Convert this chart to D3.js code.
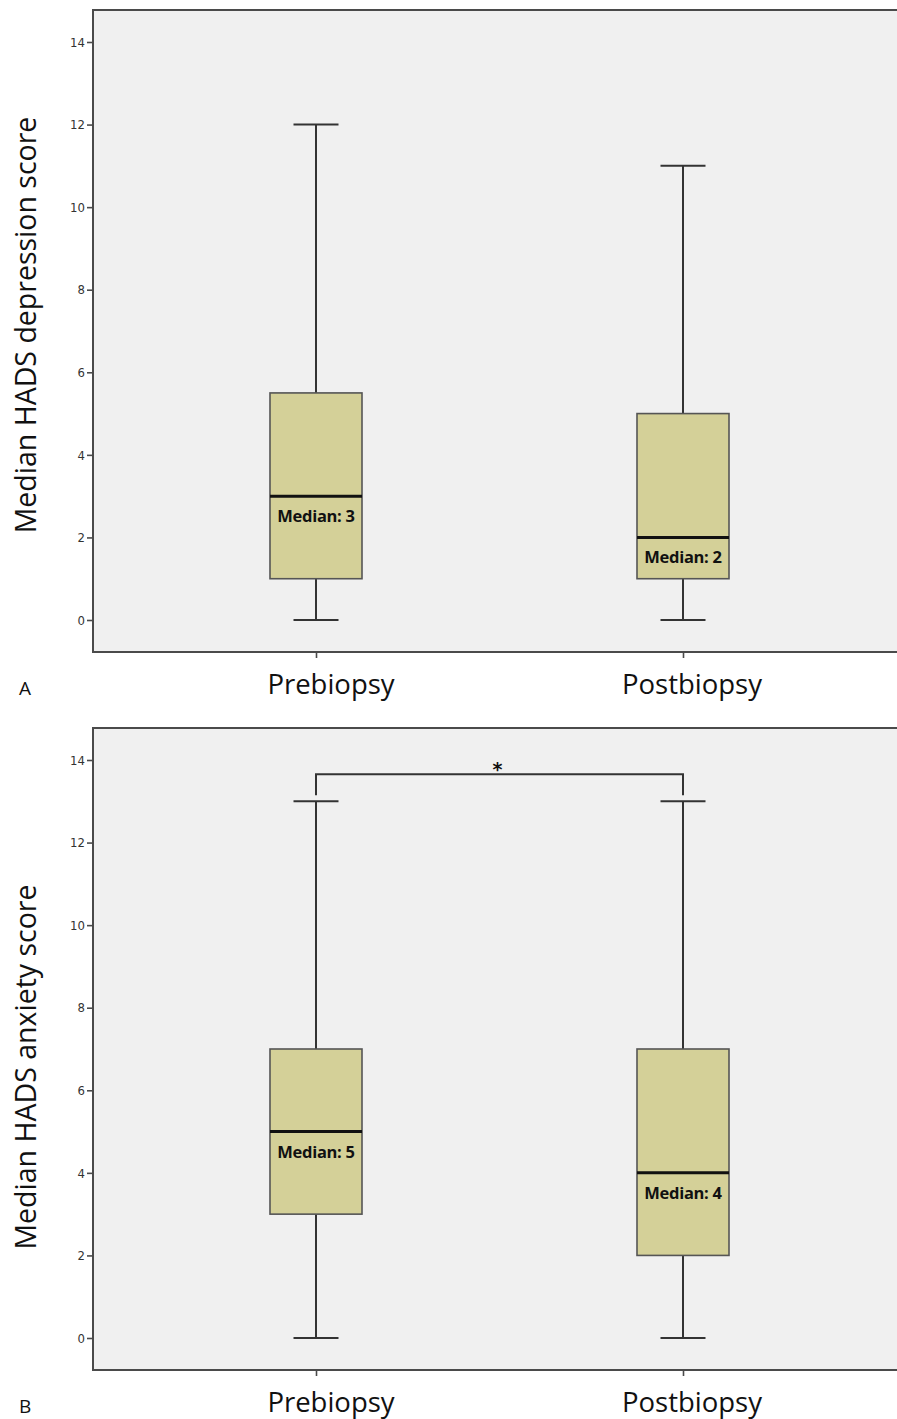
<!DOCTYPE html>
<html>
<head>
<meta charset="utf-8">
<script src="https://cdn.jsdelivr.net/npm/d3@7/dist/d3.min.js"></script>
<style>
  html, body { margin: 0; padding: 0; background: #ffffff; }
  svg { display: block; }
</style>
</head>
<body>
<svg id="chart" width="897" height="1419"></svg>
<script>
// ---- data ----
const categories = ["Prebiopsy", "Postbiopsy"];
const yTicks = [0, 2, 4, 6, 8, 10, 12, 14];

// Panel A: HADS depression  [min, q1, median, q3, max]
const depressionMin    = [0, 0];
const depressionQ1     = [1, 1];
const depressionMedian = [3, 2];
const depressionQ3     = [5.5, 5];
const depressionMax    = [12, 11];

// Panel B: HADS anxiety
const anxietyMin    = [0, 0];
const anxietyQ1     = [3, 2];
const anxietyMedian = [5, 4];
const anxietyQ3     = [7, 7];
const anxietyMax    = [13, 13];

const panelLetters = ["A", "B"];
const yLabels = ["Median HADS depression score", "Median HADS anxiety score"];

const svg = d3.select("#chart");

const panels = [
  { letter: panelLetters[0], ylabel: yLabels[0], offset: 0, labelShift: -6,
    min: depressionMin, q1: depressionQ1, med: depressionMedian, q3: depressionQ3, max: depressionMax, sig: false },
  { letter: panelLetters[1], ylabel: yLabels[1], offset: 718, labelShift: 18,
    min: anxietyMin, q1: anxietyQ1, med: anxietyMedian, q3: anxietyQ3, max: anxietyMax, sig: true }
];

const frameLeft = 93, frameRight = 897;
const boxW = 92, capW = 45;
const frameColor = "#4a4a4a";

const x = d3.scalePoint().domain(categories).range([316, 683]);

panels.forEach(p => {
  const o = p.offset;
  const y = d3.scaleLinear().domain([0, 14]).range([620 + o, 42 + o]);
  const top = 10 + o, bottom = 652 + o;
  const g = svg.append("g");

  // background
  g.append("rect").attr("x", frameLeft).attr("y", top)
    .attr("width", frameRight - frameLeft).attr("height", bottom - top)
    .attr("fill", "#f0f0f0");

  // frame lines (top, left, bottom)
  g.append("path")
    .attr("d", `M${frameRight},${top}H${frameLeft}V${bottom}H${frameRight}`)
    .attr("fill", "none").attr("stroke", frameColor).attr("stroke-width", 2);

  // y axis
  const yAxis = d3.axisLeft(y).tickValues(yTicks).tickSize(6).tickPadding(2).tickFormat(d3.format("d"));
  const ya = g.append("g").attr("transform", `translate(${frameLeft},0)`).call(yAxis);
  ya.select(".domain").remove();
  ya.selectAll(".tick line").attr("stroke", frameColor).attr("stroke-width", 1.6);
  ya.selectAll(".tick text")
    .attr("fill", "#333")
    .style("font-family", "'Liberation Sans Narrow', 'DejaVu Sans Condensed', sans-serif")
    .style("font-size", "13px");

  // x axis
  const xAxis = d3.axisBottom(x).tickSize(6).tickFormat("");
  const xa = g.append("g").attr("transform", `translate(0,${bottom})`).call(xAxis);
  xa.select(".domain").remove();
  xa.selectAll(".tick line").attr("stroke", frameColor).attr("stroke-width", 1.6);

  // category labels
  categories.forEach((c, i) => {
    g.append("text")
      .attr("x", x(c) + (i === 0 ? 15 : 9))
      .attr("y", bottom + 42)
      .attr("text-anchor", "middle")
      .attr("fill", "#111")
      .style("font-family", "'Open Sans', sans-serif")
      .style("font-size", "27.5px")
      .text(c);
  });

  // y label
  g.append("text")
    .attr("transform", `translate(36,${(top + bottom) / 2 + p.labelShift}) rotate(-90)`)
    .attr("text-anchor", "middle")
    .attr("fill", "#111")
    .style("font-family", "'Open Sans', sans-serif")
    .style("font-size", "28.5px")
    .text(p.ylabel);

  // panel letter
  g.append("text")
    .attr("x", 19).attr("y", bottom + 43)
    .attr("fill", "#111")
    .style("font-family", "'Open Sans', sans-serif")
    .style("font-size", "19px")
    .text(p.letter);

  // boxes
  categories.forEach((c, i) => {
    const cx = x(c);
    // whiskers
    g.append("line").attr("x1", cx).attr("x2", cx)
      .attr("y1", y(p.max[i])).attr("y2", y(p.q3[i]))
      .attr("stroke", "#333").attr("stroke-width", 2);
    g.append("line").attr("x1", cx).attr("x2", cx)
      .attr("y1", y(p.q1[i])).attr("y2", y(p.min[i]))
      .attr("stroke", "#333").attr("stroke-width", 2);
    [p.max[i], p.min[i]].forEach(v => {
      g.append("line").attr("x1", cx - capW / 2).attr("x2", cx + capW / 2)
        .attr("y1", y(v)).attr("y2", y(v))
        .attr("stroke", "#333").attr("stroke-width", 2);
    });
    // box
    g.append("rect")
      .attr("x", cx - boxW / 2).attr("y", y(p.q3[i]))
      .attr("width", boxW).attr("height", y(p.q1[i]) - y(p.q3[i]))
      .attr("fill", "#d4d098").attr("stroke", "#555").attr("stroke-width", 1.6);
    // median line
    g.append("line").attr("x1", cx - boxW / 2).attr("x2", cx + boxW / 2)
      .attr("y1", y(p.med[i])).attr("y2", y(p.med[i]))
      .attr("stroke", "#111").attr("stroke-width", 3);
    // median label
    g.append("text")
      .attr("x", cx).attr("y", y(p.med[i]) + 26)
      .attr("text-anchor", "middle")
      .attr("fill", "#111")
      .style("font-family", "'Open Sans', sans-serif")
      .style("font-weight", "bold")
      .style("font-size", "16.5px")
      .style("letter-spacing", "-0.3px")
      .text("Median: " + p.med[i]);
  });

  // significance bracket
  if (p.sig) {
    const x0 = x(categories[0]), x1 = x(categories[1]);
    const by = y(13) - 27;
    g.append("path")
      .attr("d", `M${x0},${y(13) - 6}V${by}H${x1}V${y(13) - 6}`)
      .attr("fill", "none").attr("stroke", "#333").attr("stroke-width", 2);
    g.append("text")
      .attr("x", (x0 + x1) / 2 - 2).attr("y", by + 2)
      .attr("text-anchor", "middle")
      .attr("fill", "#111")
      .style("font-family", "'DejaVu Sans', sans-serif")
      .style("font-weight", "bold")
      .style("font-size", "19px")
      .text("*");
  }
});
</script>
</body>
</html>
